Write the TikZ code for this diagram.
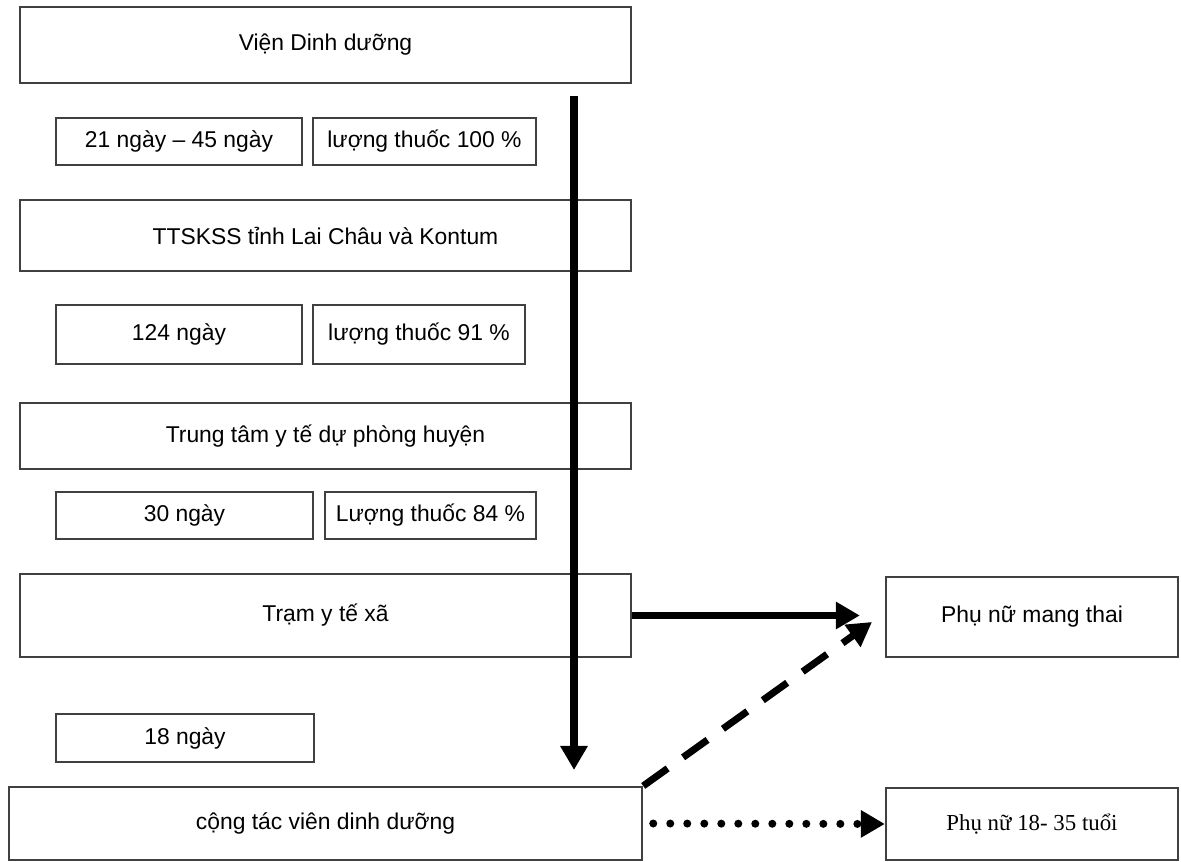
\documentclass[tikz,border=0pt]{standalone}
\usepackage{fontspec}
\setmainfont{Liberation Sans}
\newfontfamily\timesvn{Liberation Serif}
\usetikzlibrary{arrows.meta}

\tikzset{
  khung/.style={draw=black!75, line width=0.6pt, inner sep=0pt, font=\fontsize{6.5}{8}\selectfont},
  muiten/.style={line width=2pt, -{Triangle[width=0.26cm,length=0.24cm]}}
}

\begin{document}
\begin{tikzpicture}[x=0.01cm,y=-0.01cm]
        \useasboundingbox (0,0) rectangle (1181,862);

        \coordinate (dau) at (574,96);
        \coordinate (cuoi) at (574,770);
        \coordinate (dinh) at (872,622);

        % cot trai
        \node[khung, minimum width=6.11cm, minimum height=0.76cm] (vien) at (325.5,45) {Viện Dinh dưỡng};
        \node[khung, minimum width=2.46cm, minimum height=0.47cm] (ngay1) at (179,141.5) {21 ngày – 45 ngày};
        \node[khung, minimum width=2.23cm, minimum height=0.47cm] (thuoc1) at (424.5,141.5) {lượng thuốc 100 \%};
        \node[khung, minimum width=6.11cm, minimum height=0.71cm] (ttsk) at (325.5,235.5) {TTSKSS tỉnh Lai Châu và Kontum};
        \node[khung, minimum width=2.46cm, minimum height=0.59cm] (ngay2) at (179,334.5) {124 ngày};
        \node[khung, minimum width=2.12cm, minimum height=0.59cm] (thuoc2) at (419,334.5) {lượng thuốc 91 \%};
        \node[khung, minimum width=6.11cm, minimum height=0.66cm] (ttyt) at (325.5,436) {Trung tâm y tế dự phòng huyện};
        \node[khung, minimum width=2.57cm, minimum height=0.47cm] (ngay3) at (184.5,515.5) {30 ngày};
        \node[khung, minimum width=2.11cm, minimum height=0.47cm] (thuoc3) at (430.5,515.5) {Lượng thuốc 84 \%};
        \node[khung, minimum width=6.11cm, minimum height=0.83cm] (tram) at (325.5,615.5) {Trạm y tế xã};
        \node[khung, minimum width=2.58cm, minimum height=0.48cm] (ngay4) at (185,738) {18 ngày};
        \node[khung, minimum width=6.33cm, minimum height=0.73cm] (ctv) at (325.5,823.5) {cộng tác viên dinh dưỡng};

        % cot phai
        \node[khung, minimum width=2.92cm, minimum height=0.80cm] (mangthai) at (1032,617) {Phụ nữ mang thai};
        \node[khung, minimum width=2.92cm, minimum height=0.72cm, font=\fontsize{6.5}{8}\timesvn] (tuoi) at (1032,824) {Phụ nữ 18- 35 tuổi};

        \draw[muiten] (dau) -- (cuoi);
        \draw[muiten, shorten >=0.25cm] (tram.east) -- (tram.east -| mangthai.west);
        \draw[muiten, dash pattern=on 0.3cm off 0.19cm] (ctv.north east) -- (dinh);
        \draw[muiten, line width=0.08cm, line cap=round, dash pattern=on 0pt off 0.17cm,
              shorten <=0.1cm] (ctv.east) -- (tuoi.west);

    \end{tikzpicture}
\end{document}
